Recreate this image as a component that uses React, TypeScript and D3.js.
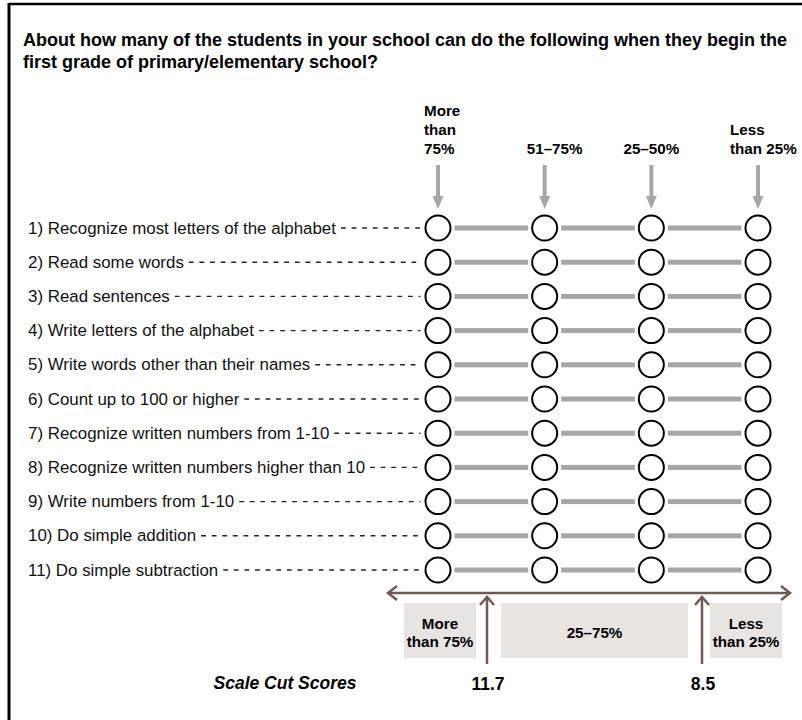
import React, { useEffect, useRef } from 'react';
import { scaleLinear, scalePoint, select } from 'd3';

const title = [
  'About how many of the students in your school can do the following when they begin the',
  'first grade of primary/elementary school?',
];

const items = [
  '1) Recognize most letters of the alphabet',
  '2) Read some words',
  '3) Read sentences',
  '4) Write letters of the alphabet',
  '5) Write words other than their names',
  '6) Count up to 100 or higher',
  '7) Recognize written numbers from 1-10',
  '8) Recognize written numbers higher than 10',
  '9) Write numbers from 1-10',
  '10) Do simple addition',
  '11) Do simple subtraction',
];

const responseLabels = [['More', 'than', '75%'], ['51–75%'], ['25–50%'], ['Less', 'than 25%']];

const cutScores = [11.7, 8.5];
const cutLabel = 'Scale Cut Scores';
const bandLabels = [['More', 'than 75%'], ['25–75%'], ['Less', 'than 25%']];

const FONT = '"Liberation Sans", Arial, sans-serif';
const GRAY = '#a6a6a6';
const BROWN = '#6e5a53';
const BOX = '#e7e4e2';

const App = () => {
  const svgRef = useRef(null);

  useEffect(() => {
    const svg: any = select(svgRef.current);
    svg.selectAll('*').remove();

    const xCol = scalePoint<number>()
      .domain(responseLabels.map((_, i) => i))
      .range([438, 758]);
    const yRow = scalePoint<string>().domain(items).range([228, 570]);
    const xCut = scaleLinear().domain([cutScores[0], cutScores[1]]).range([487, 702]);
    const r = 12.5;

    // frame (top + left only)
    svg.append('line').attr('x1', 9).attr('x2', 802).attr('y1', 4).attr('y2', 4)
      .attr('stroke', '#000').attr('stroke-width', 2.5);
    svg.append('line').attr('x1', 9).attr('x2', 9).attr('y1', 3).attr('y2', 720)
      .attr('stroke', '#000').attr('stroke-width', 3);

    // title
    svg.append('g').selectAll('text').data(title).join('text')
      .attr('x', 23).attr('y', (_: string, i: number) => 46 + i * 22)
      .attr('font-family', FONT).attr('font-weight', 'bold').attr('font-size', 18)
      .text((d: string) => d);

    // column headers + arrows
    const anchorOf = ['start', 'middle', 'middle', 'start'];
    const dxOf = [-14, 10, 0, -28];
    responseLabels.forEach((lines, i) => {
      const cx = xCol(i) as number;
      const g = svg.append('g');
      lines.forEach((ln, j) => {
        g.append('text')
          .attr('x', cx + dxOf[i]).attr('y', 154 - (lines.length - 1 - j) * 19)
          .attr('text-anchor', anchorOf[i])
          .attr('font-family', FONT).attr('font-weight', 'bold').attr('font-size', 15.2)
          .text(ln);
      });
      g.append('rect').attr('x', cx - 2).attr('y', 165).attr('width', 4).attr('height', 32).attr('fill', GRAY);
      g.append('path')
        .attr('d', `M${cx - 5.5},196 L${cx + 5.5},196 L${cx},209 Z`)
        .attr('fill', GRAY);
    });

    // rows
    items.forEach((item) => {
      const cy = yRow(item) as number;
      const g = svg.append('g');
      const t = g.append('text')
        .attr('x', 28).attr('y', cy + 5.5)
        .attr('font-family', FONT).attr('font-size', 16.9).attr('fill', '#111')
        .text(item);
      const w = (t.node() as SVGTextElement).getComputedTextLength();
      const x0 = 28 + w + 5;
      const x1 = (xCol(0) as number) - r - 5;
      g.append('line').attr('x1', x0).attr('x2', x1).attr('y1', cy).attr('y2', cy)
        .attr('stroke', '#222').attr('stroke-width', 1.4).attr('stroke-dasharray', '4.8,5.8');

      for (let i = 0; i < responseLabels.length - 1; i++) {
        const a = (xCol(i) as number) + r + 4;
        const b = (xCol(i + 1) as number) - r - 4;
        g.append('rect').attr('x', a).attr('y', cy - 2.5).attr('width', b - a).attr('height', 5).attr('fill', GRAY);
      }
      g.selectAll('circle').data(responseLabels.map((_, i) => i)).join('circle')
        .attr('cx', (d: number) => xCol(d)).attr('cy', cy).attr('r', r)
        .attr('fill', '#fff').attr('stroke', '#000').attr('stroke-width', 2);
    });

    // bottom scale
    const yAxis = 593;
    const xl = 387;
    const xr = 791;
    const b = svg.append('g').attr('stroke', BROWN).attr('fill', 'none').attr('stroke-width', 2.5);
    b.append('line').attr('x1', xl + 1).attr('x2', xr - 1).attr('y1', yAxis).attr('y2', yAxis);
    b.append('path').attr('d', `M${xl + 10},${yAxis - 7} L${xl + 1},${yAxis} L${xl + 10},${yAxis + 7}`);
    b.append('path').attr('d', `M${xr - 10},${yAxis - 7} L${xr - 1},${yAxis} L${xr - 10},${yAxis + 7}`);

    cutScores.forEach((s) => {
      const x = xCut(s);
      b.append('line').attr('x1', x).attr('x2', x).attr('y1', 664).attr('y2', yAxis + 4);
      b.append('path').attr('d', `M${x - 7},${yAxis + 12} L${x},${yAxis + 4} L${x + 7},${yAxis + 12}`);
      svg.append('text').attr('x', x + 1).attr('y', 690).attr('text-anchor', 'middle')
        .attr('font-family', FONT).attr('font-weight', 'bold').attr('font-size', 17.5)
        .text(s.toFixed(1));
    });

    const c1 = xCut(cutScores[0]);
    const c2 = xCut(cutScores[1]);
    const boxes = [
      [c1 - 83, c1 - 11],
      [c1 + 14, c2 - 14],
      [c2 + 8, c2 + 80],
    ];
    boxes.forEach(([a, z], i) => {
      svg.append('rect').attr('x', a).attr('y', 603).attr('width', z - a).attr('height', 55).attr('fill', BOX);
      const lines = bandLabels[i];
      lines.forEach((ln, j) => {
        svg.append('text')
          .attr('x', (a + z) / 2)
          .attr('y', lines.length === 1 ? 638 : 629 + j * 18)
          .attr('text-anchor', 'middle')
          .attr('font-family', FONT).attr('font-weight', 'bold').attr('font-size', 15.2)
          .text(ln);
      });
    });

    svg.append('text').attr('x', 285).attr('y', 689).attr('text-anchor', 'middle')
      .attr('font-family', FONT).attr('font-weight', 'bold').attr('font-style', 'italic').attr('font-size', 17.5)
      .text(cutLabel);
  }, []);

  return (
    <svg ref={svgRef} width={802} height={720} style={{ position: 'absolute', left: 0, top: 0, background: '#fff' }} />
  );
};

export default App;
